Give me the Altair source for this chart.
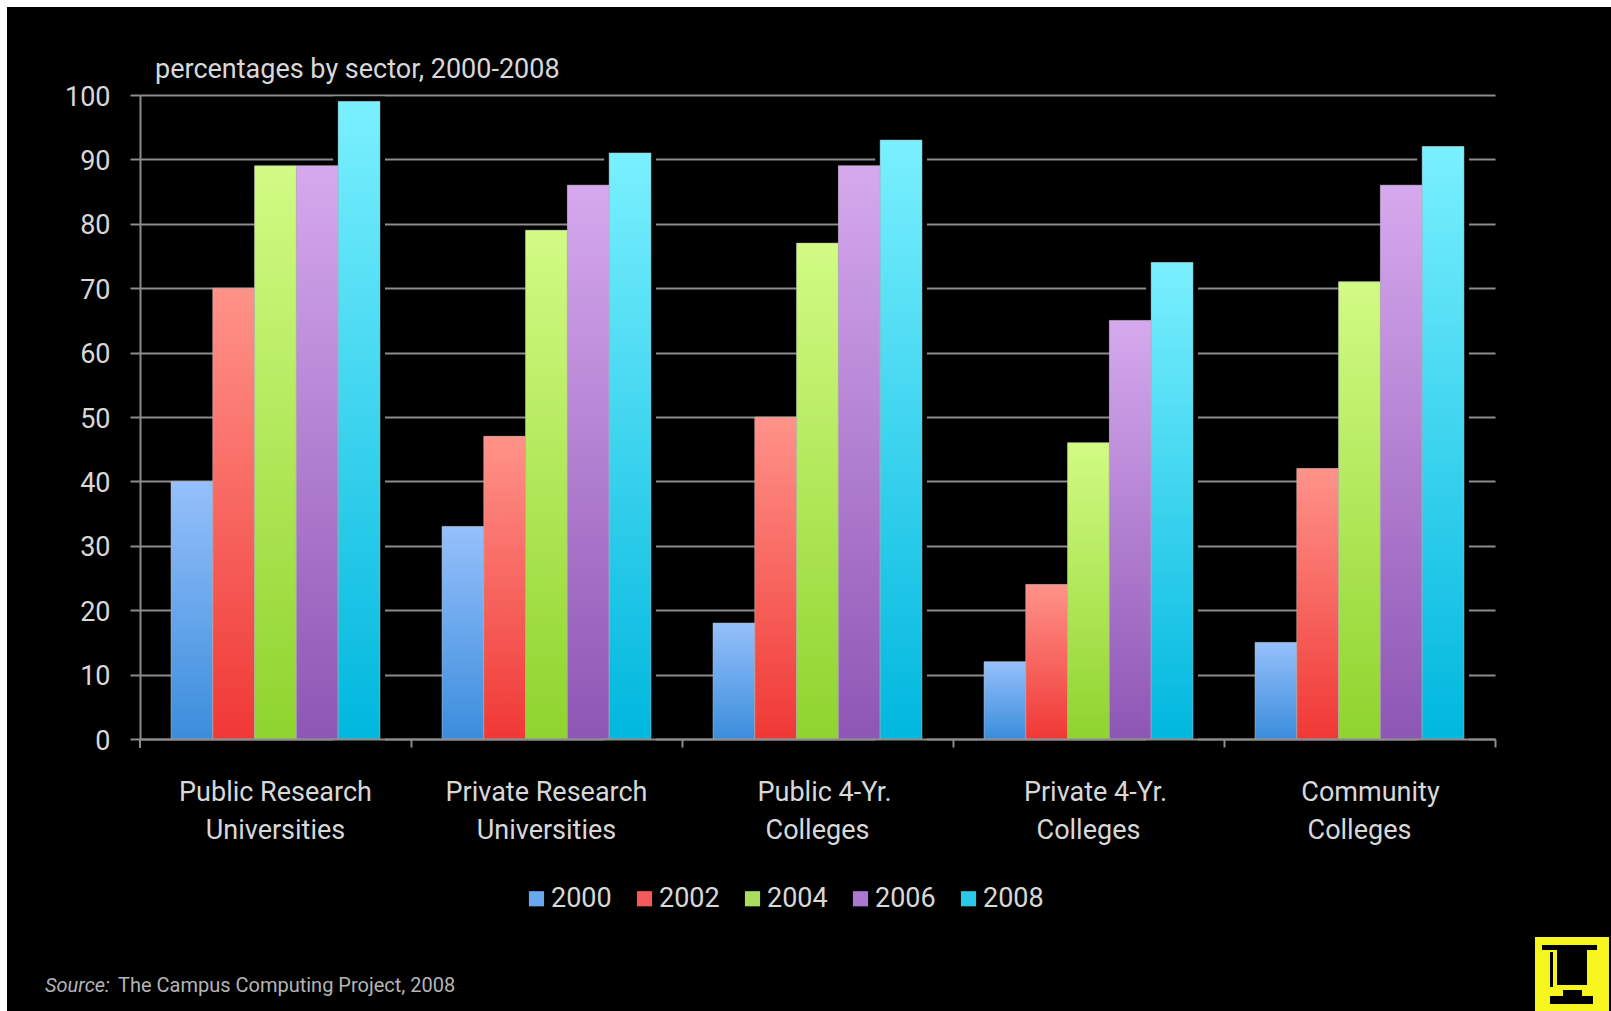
import altair as alt
import pandas as pd

# Share of institutions per sector and survey year
sectors = [
    "Public Research Universities",
    "Private Research Universities",
    "Public 4-Yr. Colleges",
    "Private 4-Yr. Colleges",
    "Community Colleges",
]
first_lines = ["Public Research", "Private Research", "Public 4-Yr.", "Private 4-Yr.", "Community"]
second_lines = ["Universities", "Universities", "Colleges", "Colleges", "Colleges"]
first_line_shift = [0, 0, 7, 7, 11]

years = ["2000", "2002", "2004", "2006", "2008"]
values_2000 = [40, 33, 18, 12, 15]
values_2002 = [70, 47, 50, 24, 42]
values_2004 = [89, 79, 77, 46, 71]
values_2006 = [89, 86, 89, 65, 86]
values_2008 = [99, 91, 93, 74, 92]
series = [values_2000, values_2002, values_2004, values_2006, values_2008]

swatches = ["#6aa8ee", "#f4595c", "#a9dd60", "#aa78d0", "#2cc8ea"]
ramps = [
    ("#96c0fb", "#3a8ddc"),
    ("#ff9389", "#f03836"),
    ("#d2fb84", "#8fd42e"),
    ("#d6a9ee", "#8d56b4"),
    ("#7af0ff", "#00b7de"),
]

FONT = "Roboto, Liberation Sans, Arial"
GREY = "#8c8c8c"
TEXT = "#d8d8d8"
W, H = 1355, 644
LEFT, TOP = 140, 95

rows = [
    {"sector": s, "year": y, "pct": series[j][i]}
    for j, y in enumerate(years)
    for i, s in enumerate(sectors)
]
df = pd.DataFrame(rows)

x_enc = alt.X(
    "sector:N",
    sort=sectors,
    scale=alt.Scale(domain=sectors, paddingInner=0.229, paddingOuter=0.1145),
    axis=alt.Axis(
        title=None,
        labels=False,
        tickOffset=135.5,
        tickSize=8,
        tickColor=GREY,
        tickWidth=2,
        domainColor=GREY,
        domainWidth=2,
        zindex=1,
    ),
)
off_enc = alt.XOffset("year:N", sort=years, scale=alt.Scale(domain=years, paddingInner=0, paddingOuter=0))
y_enc = alt.Y(
    "pct:Q",
    scale=alt.Scale(domain=[0, 100], nice=False),
    axis=alt.Axis(
        title=None,
        values=list(range(0, 101, 10)),
        labelFont=FONT,
        labelFontSize=27,
        labelColor=TEXT,
        labelPadding=20,
        labelOffset=2,
        tickSize=10,
        tickColor=GREY,
        tickWidth=2,
        domainColor=GREY,
        domainWidth=2,
        grid=True,
        gridColor=GREY,
        gridWidth=2,
    ),
)

# Dark edge that interrupts the gridlines just right of each group
halo = alt.Chart(df[df["year"] == years[-1]]).mark_bar(
    color="#000000", stroke="#000000", strokeWidth=10
).encode(x=x_enc, xOffset=off_enc, y=y_enc)

# Flat bars carry the legend; the shaded bars sit exactly on top of them
flat = alt.Chart(df).mark_bar().encode(
    x=x_enc,
    xOffset=off_enc,
    y=y_enc,
    color=alt.Color(
        "year:N",
        sort=years,
        scale=alt.Scale(domain=years, range=swatches),
        legend=alt.Legend(
            title=None,
            orient="none",
            legendX=383,
            legendY=790,
            direction="horizontal",
            symbolType="square",
            symbolSize=230,
            symbolStrokeWidth=0,
            labelFont=FONT,
            labelFontSize=27,
            labelColor=TEXT,
            labelOffset=1,
            columnPadding=19,
        ),
    ),
)

shaded = [
    alt.Chart(df[df["year"] == y]).mark_bar(
        stroke="#b5b5b5",
        strokeWidth=1,
        strokeOpacity=0.55,
        color=alt.Gradient(
            gradient="linear",
            x1=0, y1=0, x2=0, y2=1,
            stops=[alt.GradientStop(color=a, offset=0), alt.GradientStop(color=b, offset=1)],
        ),
    ).encode(x=x_enc, xOffset=off_enc, y=y_enc)
    for y, (a, b) in zip(years, ramps)
]

one = pd.DataFrame({"k": [0]})


def box(x0, x1, y0, y1, fill):
    """Rectangle in page pixels, shifted into plot-area coordinates."""
    return alt.Chart(one).mark_rect(color=fill).encode(
        x=alt.value(x0 - LEFT), x2=alt.value(x1 - LEFT),
        y=alt.value(y0 - TOP), y2=alt.value(y1 - TOP),
    )


def label(txt, x0, y0, size, color, style="normal"):
    return alt.Chart(one).mark_text(
        align="left", baseline="alphabetic", font=FONT, fontSize=size, color=color, fontStyle=style
    ).encode(x=alt.value(x0 - LEFT), y=alt.value(y0 - TOP), text=alt.value(txt))


def sector_label(sector, txt, y0, shift):
    row = pd.DataFrame({"sector": [sector], "line": [txt]})
    return alt.Chart(row).mark_text(
        baseline="alphabetic", font=FONT, fontSize=27, color=TEXT, dx=shift
    ).encode(x=x_enc, y=alt.value(y0 - TOP), text="line:N")


axis_lines = [
    sector_label(s, t, 801, d) for s, t, d in zip(sectors, first_lines, first_line_shift)
] + [sector_label(s, t, 839, 0) for s, t in zip(sectors, second_lines)]

# Page margin along the top and left edges
margin = [box(0, 1611, 0, 7, "#ffffff"), box(0, 7, 0, 1011, "#ffffff")]

# Foot of the value axis below the baseline
foot = [box(139, 141, 739, 748, GREY)]

# Yellow mortarboard badge in the corner
badge = [
    box(1535, 1609, 937, 1011, "#f6f61e"),
    box(1542, 1597, 945, 950, "#000000"),
    box(1557, 1587, 950, 985, "#000000"),
    box(1550, 1553, 952, 987, "#000000"),
    box(1563, 1582, 990, 996, "#000000"),
    box(1550, 1593, 996, 1004, "#000000"),
]

notes = [
    label("percentages by sector, 2000-2008", 155, 78, 27, TEXT),
    label("Source:", 45, 992, 20, "#b4b4b4", style="italic"),
    label("The Campus Computing Project, 2008", 118, 992, 20, "#b4b4b4"),
]

chart = alt.layer(halo, flat, *shaded, *axis_lines, *notes, *foot, *margin, *badge).properties(
    width=W,
    height=H,
    background="#000000",
    padding={"left": LEFT, "top": TOP, "right": 1611 - LEFT - W, "bottom": 1011 - TOP - H},
    autosize=alt.AutoSizeParams(type="none"),
).configure_view(stroke=None)

chart.save("out.html", embed_options={"renderer": "svg", "actions": False})
